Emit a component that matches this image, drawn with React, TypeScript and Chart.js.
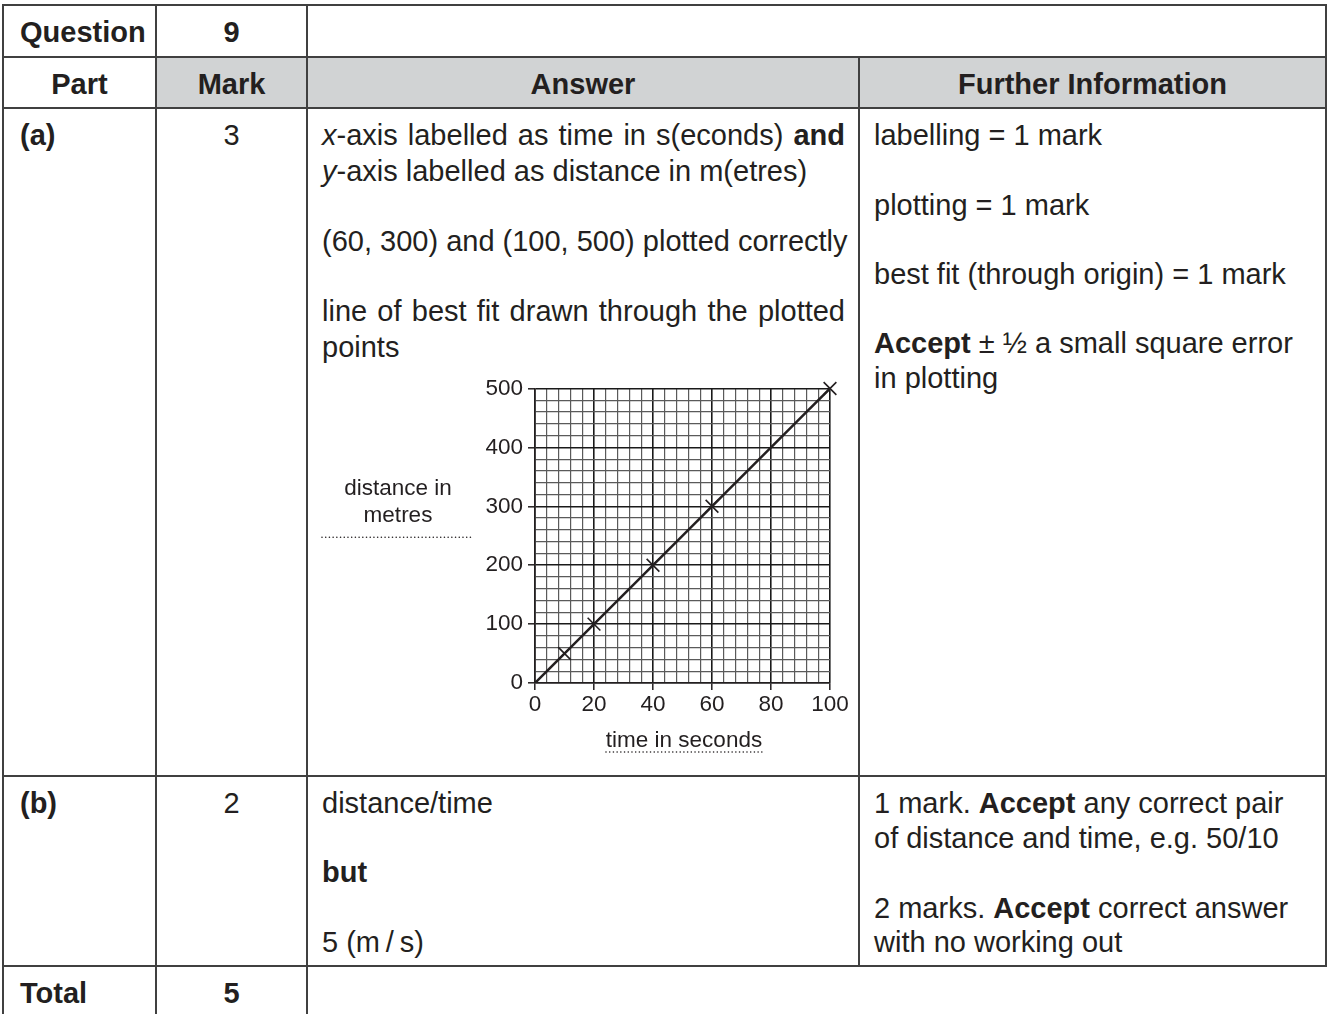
import React, { useEffect, useRef } from 'react';
import { Chart, registerables } from 'chart.js';

Chart.register(...registerables);

// ---- chart data ----
const timeSeconds = [10, 20, 40, 60, 100];
const distanceMetres = [50, 100, 200, 300, 500];
const bestFitTime = [0, 100];
const bestFitDistance = [0, 500];
const xMajorTicks = [0, 20, 40, 60, 80, 100];
const yMajorTicks = [0, 100, 200, 300, 400, 500];
const xTitle = 'time in seconds';
const yTitleLines = ['distance in', 'metres'];

const INK = '#231f20';
const LINE = '#404040';
const GREY = '#d1d3d4';
const FONT = '"Liberation Sans", Arial, Helvetica, sans-serif';

const dotted = (ctx: CanvasRenderingContext2D, x1: number, x2: number, y: number) => {
  ctx.save();
  ctx.strokeStyle = INK;
  ctx.lineWidth = 1.6;
  ctx.lineCap = 'round';
  ctx.setLineDash([0.01, 3.7]);
  ctx.beginPath();
  ctx.moveTo(x1, y);
  ctx.lineTo(x2, y);
  ctx.stroke();
  ctx.restore();
};

const axisTitlePlugin = {
  id: 'axisTitles',
  afterDraw(chart: any) {
    const { ctx, chartArea: ca } = chart;
    const midY = (ca.top + ca.bottom) / 2;
    ctx.save();
    ctx.fillStyle = INK;
    ctx.font = `22.5px ${FONT}`;
    ctx.textAlign = 'center';
    ctx.textBaseline = 'middle';
    const yx = ca.left - 137;
    ctx.fillText(yTitleLines[0], yx, midY - 46.5);
    ctx.fillText(yTitleLines[1], yx, midY - 19.5);
    dotted(ctx, ca.left - 213, ca.left - 63, midY + 1.5);
    const cx = (ca.left + ca.right) / 2 + 1.5;
    ctx.fillText(xTitle, cx, ca.bottom + 58);
    dotted(ctx, cx - 78, cx + 78, ca.bottom + 69);
    ctx.restore();
  },
};

const isMajor = (v: number, step: number) => Math.round(v) % step === 0;

function DistanceChart() {
  const ref = useRef<HTMLCanvasElement | null>(null);
  useEffect(() => {
    if (!ref.current) return;
    const gridFor = (step: number) => ({
      color: (c: any) => (c.tick && isMajor(c.tick.value, step) ? '#1a1a1a' : '#5a5a5a'),
      lineWidth: (c: any) => (c.tick && isMajor(c.tick.value, step) ? 1.6 : 1.2),
      tickColor: (c: any) => (c.tick && isMajor(c.tick.value, step) ? INK : 'rgba(0,0,0,0)'),
      tickLength: 7,
      tickWidth: 1.5,
      drawTicks: true,
    });
    const chart = new Chart(ref.current, {
      type: 'scatter',
      data: {
        datasets: [
          {
            data: bestFitTime.map((t, i) => ({ x: t, y: bestFitDistance[i] })),
            showLine: true,
            borderColor: INK,
            borderWidth: 2.5,
            pointRadius: 0,
            fill: false,
          },
          {
            data: timeSeconds.map((t, i) => ({ x: t, y: distanceMetres[i] })),
            showLine: false,
            pointStyle: 'crossRot',
            pointRadius: 9,
            borderColor: INK,
            backgroundColor: INK,
            pointBorderWidth: 1.6,
            borderWidth: 1.6,
            clip: false,
          },
        ],
      },
      options: {
        animation: false,
        responsive: false,
        maintainAspectRatio: false,
        layout: { padding: { top: 18, right: 28, left: 0, bottom: 0 } },
        plugins: { legend: { display: false }, tooltip: { enabled: false } },
        scales: {
          x: {
            type: 'linear',
            min: 0,
            max: 100,
            afterFit: (s: any) => { s.height = 87; },
            ticks: {
              stepSize: 4,
              autoSkip: false,
              maxRotation: 0,
              minRotation: 0,
              padding: 1,
              color: INK,
              font: { family: FONT, size: 22.5 },
              callback: (v: any) => (xMajorTicks.includes(Math.round(v)) ? String(Math.round(v)) : ''),
            },
            grid: gridFor(20),
            border: { display: true, color: INK, width: 1.6 },
          },
          y: {
            type: 'linear',
            min: 0,
            max: 500,
            afterFit: (s: any) => { s.width = 225; },
            ticks: {
              stepSize: 20,
              autoSkip: false,
              padding: 5,
              color: INK,
              font: { family: FONT, size: 22.5 },
              callback: (v: any) => (yMajorTicks.includes(Math.round(v)) ? String(Math.round(v)) : ''),
            },
            grid: gridFor(100),
            border: { display: true, color: INK, width: 1.6 },
          },
        },
      } as any,
      plugins: [axisTitlePlugin],
    });
    return () => chart.destroy();
  }, []);
  return (
    <canvas
      ref={ref}
      width={548}
      height={400}
      style={{ position: 'absolute', left: 310, top: 370, width: 548, height: 400 }}
    />
  );
}

// ---- table helpers ----
type TProps = {
  x: number;
  y: number;
  w?: number;
  align?: 'left' | 'center';
  justify?: boolean;
  bold?: boolean;
  children: React.ReactNode;
};

function T({ x, y, w, align = 'left', justify, bold, children }: TProps) {
  const style: React.CSSProperties = {
    position: 'absolute',
    left: x,
    top: y - 17,
    lineHeight: '35px',
    height: 35,
    whiteSpace: 'nowrap',
    fontWeight: bold ? 700 : 400,
    textAlign: justify ? 'justify' : align,
  };
  if (w !== undefined) style.width = w;
  if (justify) (style as any).textAlignLast = 'justify';
  return <div style={style}>{children}</div>;
}

function HLine({ y, x1, x2 }: { y: number; x1: number; x2: number }) {
  return <div style={{ position: 'absolute', left: x1 - 1, top: y - 1, width: x2 - x1 + 2, height: 2, background: LINE }} />;
}
function VLine({ x, y1, y2 }: { x: number; y1: number; y2: number }) {
  return <div style={{ position: 'absolute', left: x - 1, top: y1 - 1, width: 2, height: y2 - y1 + 2, background: LINE }} />;
}

const C = [3, 156, 307, 859, 1326];
const R = [5, 57, 108, 776, 966, 1016];

export default function App() {
  const colCenter = (i: number) => ({ x: C[i], w: C[i + 1] - C[i] });
  const answerW = 523;
  return (
    <div
      style={{
        position: 'absolute',
        left: 0,
        top: 0,
        width: 1328,
        height: 1014,
        overflow: 'hidden',
        background: '#ffffff',
        fontFamily: FONT,
        fontSize: 29,
        color: INK,
      }}
    >
      {/* grey header cells */}
      <div style={{ position: 'absolute', left: C[1], top: R[1], width: C[4] - C[1], height: R[2] - R[1], background: GREY }} />

      {/* horizontal rules */}
      {R.slice(0, 5).map((y) => (
        <HLine key={'h' + y} y={y} x1={C[0]} x2={C[4]} />
      ))}
      {/* vertical rules */}
      <VLine x={C[0]} y1={R[0]} y2={R[5]} />
      <VLine x={C[1]} y1={R[0]} y2={R[5]} />
      <VLine x={C[2]} y1={R[0]} y2={R[5]} />
      <VLine x={C[3]} y1={R[1]} y2={R[4]} />
      <VLine x={C[4]} y1={R[0]} y2={R[4]} />

      {/* row: Question */}
      <T x={20} y={32} bold>Question</T>
      <T {...colCenter(1)} y={32} align="center" bold>9</T>

      {/* header row */}
      <T {...colCenter(0)} y={84} align="center" bold>Part</T>
      <T {...colCenter(1)} y={84} align="center" bold>Mark</T>
      <T {...colCenter(2)} y={84} align="center" bold>Answer</T>
      <T {...colCenter(3)} y={84} align="center" bold>Further Information</T>

      {/* row (a) */}
      <T x={20} y={135} bold>(a)</T>
      <T {...colCenter(1)} y={135} align="center">3</T>
      <T x={322} y={135} w={answerW} justify>
        <i>x</i>-axis labelled as time in s(econds) <b>and</b>
      </T>
      <T x={322} y={171}>
        <i>y</i>-axis labelled as distance in m(etres)
      </T>
      <T x={322} y={241} w={answerW} justify>(60, 300) and (100, 500) plotted correctly</T>
      <T x={322} y={311} w={answerW} justify>line of best fit drawn through the plotted</T>
      <T x={322} y={347}>points</T>

      <T x={874} y={135}>labelling = 1 mark</T>
      <T x={874} y={205}>plotting = 1 mark</T>
      <T x={874} y={274}>best fit (through origin) = 1 mark</T>
      <T x={874} y={343}>
        <b>Accept</b> ± ½ a small square error
      </T>
      <T x={874} y={378}>in plotting</T>

      <DistanceChart />

      {/* row (b) */}
      <T x={20} y={803} bold>(b)</T>
      <T {...colCenter(1)} y={803} align="center">2</T>
      <T x={322} y={803}>distance/time</T>
      <T x={322} y={872} bold>but</T>
      <T x={322} y={942}>5 (m{'\u2009'}/{'\u2009'}s)</T>

      <T x={874} y={803}>
        1 mark. <b>Accept</b> any correct pair
      </T>
      <T x={874} y={838}>of distance and time, e.g. 50/10</T>
      <T x={874} y={908}>
        2 marks. <b>Accept</b> correct answer
      </T>
      <T x={874} y={942}>with no working out</T>

      {/* total row */}
      <T x={20} y={993} bold>Total</T>
      <T {...colCenter(1)} y={993} align="center" bold>5</T>
    </div>
  );
}
